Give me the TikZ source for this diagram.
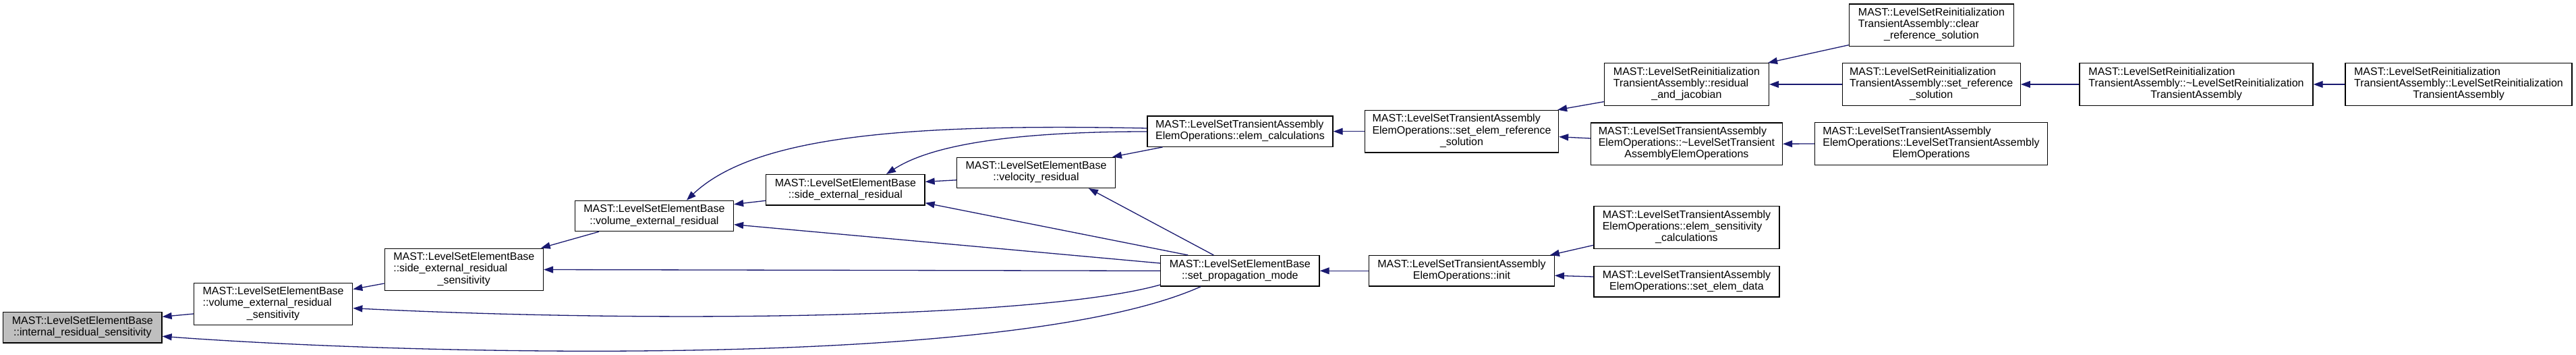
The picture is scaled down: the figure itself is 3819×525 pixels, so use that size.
\documentclass[tikz,border=0pt]{standalone}
\usepackage{fontspec}
\setmainfont{Liberation Sans}
\usetikzlibrary{arrows.meta,calc}
\definecolor{edgecol}{HTML}{191970}
\definecolor{hlfill}{HTML}{BFBFBF}
\newcommand\TwoL[2]{\begin{tabular}{@{}l@{}}#1\\\multicolumn{1}{@{}c@{}}{#2}\end{tabular}}
\newcommand\ThreeL[3]{\begin{tabular}{@{}l@{}}#1\\#2\\\multicolumn{1}{@{}c@{}}{#3}\end{tabular}}
\tikzset{
  fnode/.style={draw=black, line width=1.3pt, fill=white, inner sep=0pt, anchor=center,
    font=\fontsize{16}{17.3}\selectfont},
  two/.style={minimum height=45.3},
  three/.style={minimum height=62.6},
  edge/.style={draw=edgecol, line width=1.3pt, -{Triangle[length=14pt,width=10pt]}}
}
\begin{document}
\begin{tikzpicture}[x=1pt,y=1pt]
\fill[white] (0,0) rectangle (3819,-525);
\useasboundingbox (0,0) rectangle (3819,-525);

\node[fnode,two,minimum width=235.2,fill=hlfill] (n1) at (122.4,-485.3) {\TwoL{MAST::LevelSetElementBase}{::internal\_residual\_sensitivity}};
\node[fnode,three,minimum width=235.2] (n2) at (405.1,-450.5) {\ThreeL{MAST::LevelSetElementBase}{::volume\_external\_residual}{\_sensitivity}};
\node[fnode,three,minimum width=235.2] (n3) at (687.8,-399.5) {\ThreeL{MAST::LevelSetElementBase}{::side\_external\_residual}{\_sensitivity}};
\node[fnode,two,minimum width=235.2] (n4) at (969.9,-320) {\TwoL{MAST::LevelSetElementBase}{::volume\_external\_residual}};
\node[fnode,two,minimum width=235.2] (n5) at (1253.4,-281.3) {\TwoL{MAST::LevelSetElementBase}{::side\_external\_residual}};
\node[fnode,two,minimum width=235.2] (n6) at (1536,-255.8) {\TwoL{MAST::LevelSetElementBase}{::velocity\_residual}};
\node[fnode,two,minimum width=275] (n7) at (1838.5,-194.7) {\TwoL{MAST::LevelSetTransientAssembly}{ElemOperations::elem\_calculations}};
\node[fnode,two,minimum width=235.5] (n8) at (1838.3,-401.3) {\TwoL{MAST::LevelSetElementBase}{::set\_propagation\_mode}};
\node[fnode,three,minimum width=287] (n9) at (2167,-194.7) {\ThreeL{MAST::LevelSetTransientAssembly}{ElemOperations::set\_elem\_reference}{\_solution}};
\node[fnode,two,minimum width=274.5] (n10) at (2167,-401.3) {\TwoL{MAST::LevelSetTransientAssembly}{ElemOperations::init}};
\node[fnode,three,minimum width=244] (n11) at (2500.4,-125) {\ThreeL{MAST::LevelSetReinitialization}{TransientAssembly::residual}{\_and\_jacobian}};
\node[fnode,three,minimum width=284] (n12) at (2500.4,-213.2) {\ThreeL{MAST::LevelSetTransientAssembly}{ElemOperations::\textasciitilde LevelSetTransient}{AssemblyElemOperations}};
\node[fnode,three,minimum width=275] (n14) at (2500.4,-337) {\ThreeL{MAST::LevelSetTransientAssembly}{ElemOperations::elem\_sensitivity}{\_calculations}};
\node[fnode,two,minimum width=275] (n15) at (2500.4,-417.2) {\TwoL{MAST::LevelSetTransientAssembly}{ElemOperations::set\_elem\_data}};
\node[fnode,three,minimum width=244] (nclear) at (2863.4,-37.2) {\ThreeL{MAST::LevelSetReinitialization}{TransientAssembly::clear}{\_reference\_solution}};
\node[fnode,three,minimum width=264] (nsetref) at (2863.2,-125) {\ThreeL{MAST::LevelSetReinitialization}{TransientAssembly::set\_reference}{\_solution}};
\node[fnode,three,minimum width=345] (n13) at (2863,-213) {\ThreeL{MAST::LevelSetTransientAssembly}{ElemOperations::LevelSetTransientAssembly}{ElemOperations}};
\node[fnode,three,minimum width=346] (ndestr) at (3256,-125) {\ThreeL{MAST::LevelSetReinitialization}{TransientAssembly::\textasciitilde LevelSetReinitialization}{TransientAssembly}};
\node[fnode,three,minimum width=336] (nctor) at (3645,-125) {\ThreeL{MAST::LevelSetReinitialization}{TransientAssembly::LevelSetReinitialization}{TransientAssembly}};

% edges (caller -> callee)
\draw[edge] ([yshift=-14.5]n2.west) -- ([yshift=16]n1.east);
\draw[edge] ([xshift=-58]n8.south) .. controls (1500,-550) and (600,-525) .. ([yshift=-13]n1.east);
\draw[edge] ([yshift=-20.5]n3.west) -- ([yshift=22]n2.east);
\draw[edge] ([yshift=-20.7]n8.west) .. controls (1550,-470) and (1000,-480) .. ([yshift=-6.2]n2.east);
\draw[edge] (n8.west) -- (n3.east);
\draw[edge] ([xshift=-82]n4.south) -- ([xshift=114]n3.north);
\draw[edge] ([yshift=11.3]n8.west) -- ([yshift=-12.7]n4.east);
\draw[edge] ([yshift=-16]n5.west) -- ([yshift=17.3]n4.east);
\draw[edge] ([yshift=4.7]n7.west) .. controls (1350,-183) and (1120,-200) .. ([xshift=48]n4.north);
\draw[edge] ([yshift=-0.3]n7.west) .. controls (1500,-195) and (1380,-215) .. ([xshift=60.6]n5.north);
\draw[edge] ([yshift=-11]n6.west) -- ([yshift=12]n5.east);
\draw[edge] ([xshift=-77]n8.north) -- ([yshift=-19.4]n5.east);
\draw[edge] ([xshift=-115]n7.south) -- ([xshift=113]n6.north);
\draw[edge] ([xshift=-39]n8.north) -- ([xshift=78]n6.south);
\draw[edge] (n9.west) -- (n7.east);
\draw[edge] (n10.west) -- (n8.east);
\draw[edge] ([yshift=-25.7]n11.west) -- ([xshift=-2]n9.north east);
\draw[edge] ([yshift=8.2]n12.west) -- ([yshift=-8]n9.east);
\draw[edge] ([yshift=-26.3]n14.west) -- ([xshift=-7]n10.north east);
\draw[edge] ([yshift=7.2]n15.west) -- ([yshift=-7]n10.east);
\draw[edge] ([yshift=-29.5]nclear.west) -- ([xshift=-2]n11.north east);
\draw[edge] (nsetref.west) -- (n11.east);
\draw[edge] (n13.west) -- (n12.east);
\draw[edge] (ndestr.west) -- (nsetref.east);
\draw[edge] (nctor.west) -- (ndestr.east);
\end{tikzpicture}
\end{document}
